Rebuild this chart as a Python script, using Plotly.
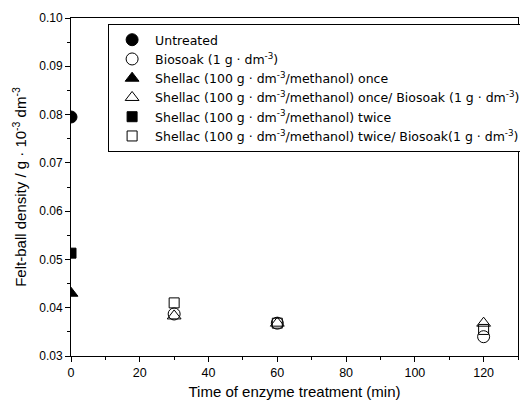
import plotly.graph_objects as go

names = [
    "Untreated",
    "Biosoak (1 g · dm<sup>-3</sup>)",
    "Shellac (100 g · dm<sup>-3</sup>/methanol) once",
    "Shellac (100 g · dm<sup>-3</sup>/methanol) once/ Biosoak (1 g · dm<sup>-3</sup>)",
    "Shellac (100 g · dm<sup>-3</sup>/methanol) twice",
    "Shellac (100 g · dm<sup>-3</sup>/methanol) twice/ Biosoak(1 g · dm<sup>-3</sup>)",
]
symbols = ["circle", "circle-open", "triangle-up", "triangle-up-open", "square", "square-open"]
sizes = [12, 12, 12, 12, 10, 10]

untreated_x = [0]
untreated_y = [0.0795]
biosoak_x = [30, 60, 120]
biosoak_y = [0.0387, 0.0368, 0.0340]
once_x = [0]
once_y = [0.0430]
once_bio_x = [30, 60, 120]
once_bio_y = [0.0383, 0.0368, 0.0368]
twice_x = [0]
twice_y = [0.0513]
twice_bio_x = [30, 60, 120]
twice_bio_y = [0.0410, 0.0368, 0.0355]

xs = [untreated_x, biosoak_x, once_x, once_bio_x, twice_x, twice_bio_x]
ys = [untreated_y, biosoak_y, once_y, once_bio_y, twice_y, twice_bio_y]

fig = go.Figure()
for n, s, sz, x, y in zip(names, symbols, sizes, xs, ys):
    fig.add_trace(go.Scatter(
        x=x, y=y, mode="markers", name=n,
        marker=dict(symbol=s, size=sz, color="black", line=dict(color="black", width=1)),
    ))

font = "Liberation Sans, Arial, sans-serif"
fig.update_layout(
    width=520, height=400,
    margin=dict(l=71, r=2, t=18, b=44, autoexpand=False),
    paper_bgcolor="white", plot_bgcolor="white",
    font=dict(family=font, size=12, color="black"),
    showlegend=True,
    legend=dict(
        x=0.083, y=0.982, xanchor="left", yanchor="top",
        bgcolor="white", bordercolor="black", borderwidth=1,
        font=dict(family="DejaVu Sans, sans-serif", size=12.5, color="black"),
        tracegroupgap=0, itemwidth=36,
    ),
    xaxis=dict(
        range=[0, 130], showgrid=False, zeroline=False,
        showline=True, linecolor="black", linewidth=1, mirror=True,
        ticks="outside", ticklen=5, tickcolor="black", dtick=20, tick0=0,
        minor=dict(ticks="outside", ticklen=3, dtick=10, tickcolor="black"),
        tickfont=dict(size=12.5),
        title=dict(text="Time of enzyme treatment (min)", font=dict(size=15), standoff=11),
    ),
    yaxis=dict(
        range=[0.03, 0.10], showgrid=False, zeroline=False,
        showline=True, linecolor="black", linewidth=1, mirror=True,
        ticks="outside", ticklen=5, tickcolor="black", dtick=0.01, tick0=0.03,
        tickformat=".2f",
        minor=dict(ticks="outside", ticklen=3, dtick=0.005, tickcolor="black"),
        tickfont=dict(size=12),
        title=dict(text="Felt-ball density / g · 10<sup>-3</sup> dm<sup>-3</sup>", font=dict(size=15), standoff=8),
    ),
)

fig.write_html("out.html")
